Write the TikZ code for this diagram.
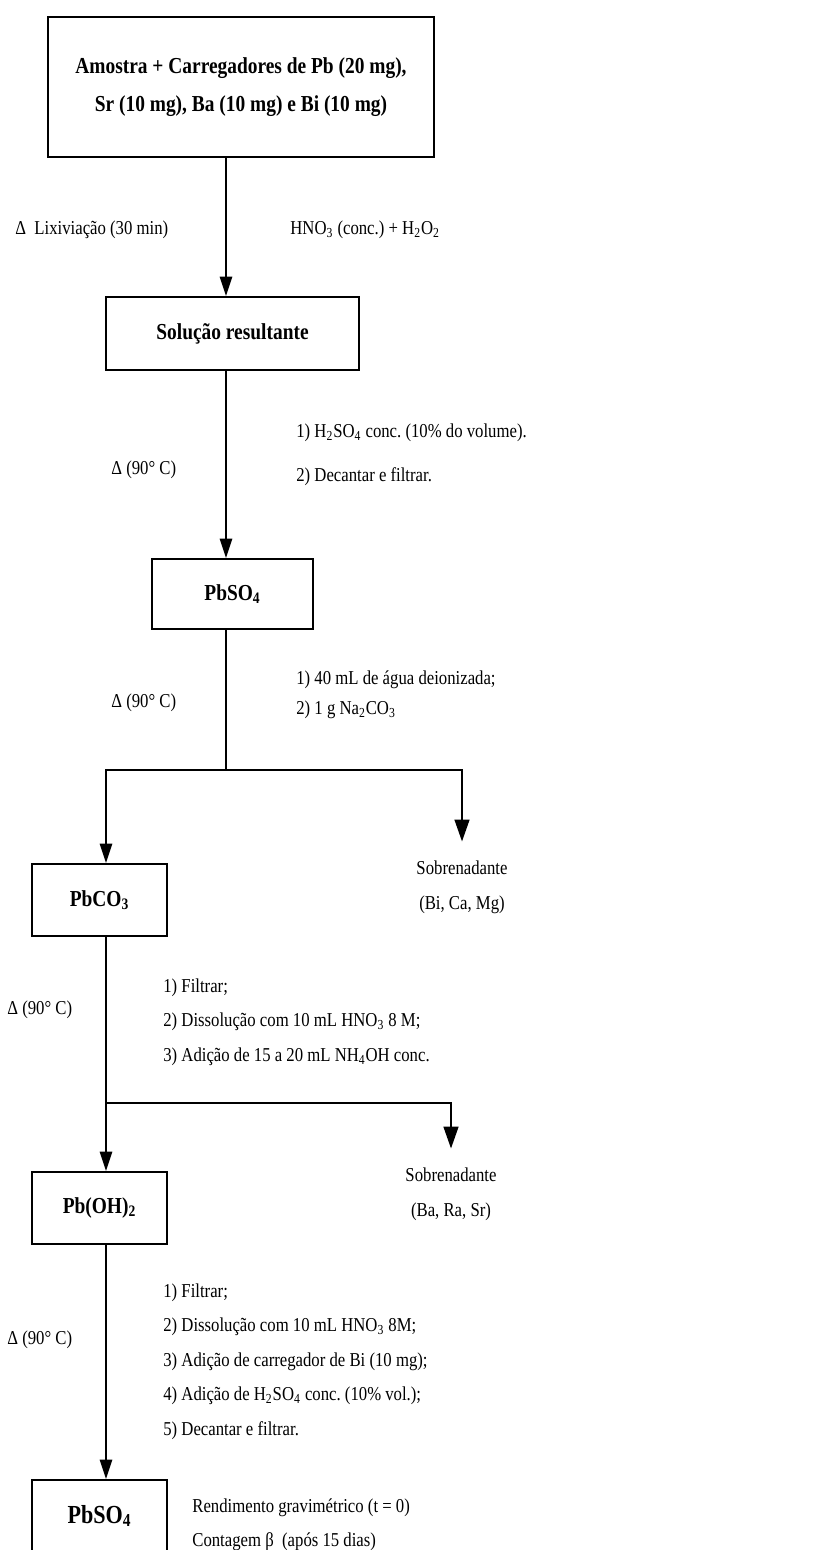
\documentclass[tikz,border=0pt]{standalone}
\usepackage{fontspec}
\setmainfont{Liberation Serif}[FakeStretch=0.85]
\usepackage{tikz}
\usetikzlibrary{positioning,arrows.meta,calc}

\newcommand{\ch}[1]{\textsubscript{#1}}
\frenchspacing

\begin{document}
\begin{tikzpicture}[x=0.02cm, y=-0.02cm,
    caixa/.style={draw, line width=1.1pt, align=center, inner sep=0pt,
        font=\fontsize{13}{22}\selectfont\bfseries},
    pequena/.style={caixa, minimum width=2.7cm, minimum height=1.44cm},
    rotulo/.style={anchor=west, inner sep=0pt, font=\fontsize{11.2}{19.6}\selectfont},
    notas/.style={anchor=west, inner sep=0pt, align=left,
        font=\fontsize{11.2}{#1}\selectfont},
    notas/.default=19.6,
    sobre/.style={inner sep=0pt, align=center, font=\fontsize{11.2}{19.8}\selectfont},
    linha/.style={line width=1pt},
    seta/.style={linha, -{Triangle[width=7pt,length=11pt]}},
    setag/.style={linha, -{Triangle[width=8.5pt,length=12.5pt]}, shorten >=11pt}]
    % area do desenho
    \clip (0,0) rectangle (827,1550);
    % colunas dos conectores
    \coordinate (tronco) at (226,0);
    \coordinate (coluna) at (106,0);
    \coordinate (j1) at (226,770);
    \coordinate (j2) at (106,1103);
    % caixas
    \node[caixa, minimum width=7.72cm, minimum height=2.8cm] (amostra) at (241,87)
        {Amostra + Carregadores de Pb (20 mg),\\ Sr (10 mg), Ba (10 mg) e Bi (10 mg)};
    \node[caixa, minimum width=5.06cm, minimum height=1.46cm] (solucao) at (232.5,333.5) {Solução resultante};
    \node[caixa, minimum width=3.22cm, minimum height=1.4cm] (sulfato) at (232.5,594) {PbSO\ch{4}};
    \node[pequena] (carbonato) at (99.5,900) {PbCO\ch{3}};
    \node[pequena] (hidroxido) at (99.5,1208) {Pb(OH)\ch{2}};
    \node[pequena, font=\fontsize{14.8}{17}\selectfont\bfseries] (final) at (99.5,1516) {PbSO\ch{4}};
    % sobrenadantes
    \node[sobre] (sob1) at (462,887.5) {Sobrenadante\\(Bi, Ca, Mg)};
    \node[sobre] (sob2) at (451,1194.5) {Sobrenadante\\(Ba, Ra, Sr)};
    % conectores
    \draw[seta] (amostra.south -| tronco) -- (solucao.north -| tronco);
    \draw[seta] (solucao.south -| tronco) -- (sulfato.north -| tronco);
    \draw[linha] (sulfato.south -| tronco) -- (j1);
    \draw[seta] (j1) -| (carbonato.north -| coluna);
    \draw[setag] (j1) -| (sob1.north);
    \draw[linha] (carbonato.south -| coluna) -- (j2);
    \draw[seta] (j2) -- (hidroxido.north -| coluna);
    \draw[setag] (j2) -| (sob2.north);
    \draw[seta] (hidroxido.south -| coluna) -- (final.north -| coluna);
    % condicoes
    \node[rotulo] (lixiv) at (15,230) {Δ\ \ Lixiviação (30 min)};
    \node[rotulo] (acido) at (290,230) {HNO\ch{3} (conc.) + H\ch{2}O\ch{2}};
    \node[rotulo] (calor1) at (111,470) {Δ (90° C)};
    \node[notas=25] (passos1) at (296,455)
        {1) H\ch{2}SO\ch{4} conc. (10\% do volume).\\2) Decantar e filtrar.};
    \node[rotulo] (calor2) at (111,703) {Δ (90° C)};
    \node[notas=17] (passos2) at (296,695)
        {1) 40 mL de água deionizada;\\2) 1 g Na\ch{2}CO\ch{3}};
    \node[rotulo] (calor3) at (7,1010) {Δ (90° C)};
    \node[notas] (passos3) at (163,1022)
        {1) Filtrar;\\2) Dissolução com 10 mL HNO\ch{3} 8 M;\\3) Adição de 15 a 20 mL NH\ch{4}OH conc.};
    \node[rotulo] (calor4) at (7,1340) {Δ (90° C)};
    \node[notas] (passos4) at (163,1361.5)
        {1) Filtrar;\\2) Dissolução com 10 mL HNO\ch{3} 8M;\\3) Adição de carregador de Bi (10 mg);\\
         4) Adição de H\ch{2}SO\ch{4} conc. (10\% vol.);\\5) Decantar e filtrar.};
    \node[notas] (medida) at (192,1524.5)
        {Rendimento gravimétrico (t = 0)\\Contagem β\ \ (após 15 dias)};
\end{tikzpicture}
\end{document}
